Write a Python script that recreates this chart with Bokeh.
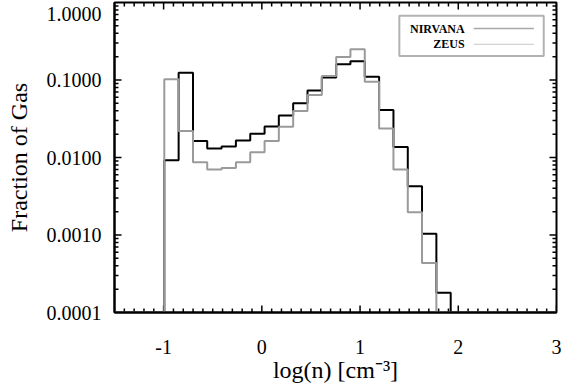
import numpy as np
from bokeh.plotting import figure
from bokeh.models import FixedTicker, PrintfTickFormatter, Label, BoxAnnotation, Range1d
from bokeh.embed import file_html
from bokeh.resources import INLINE

# ---------------- data ----------------
# histogram bin edges in log(n) [cm^-3] (20 filled bins -> 21 edges)
bin_edges = [-0.993, -0.847, -0.701, -0.556, -0.410, -0.264, -0.118, 0.028, 0.173, 0.319,
             0.465, 0.611, 0.757, 0.902, 1.048, 1.194, 1.340, 1.486, 1.631, 1.777, 1.923]
# fraction of gas per bin
nirvana = [0.0092, 0.124, 0.0163, 0.0131, 0.0139, 0.0166, 0.0202, 0.0252, 0.0349, 0.050,
           0.0734, 0.108, 0.160, 0.175, 0.110, 0.041, 0.0137, 0.00426, 0.00104, 0.00018]
zeus = [0.102, 0.0219, 0.0087, 0.0070, 0.0073, 0.0087, 0.0117, 0.0163, 0.0249, 0.0397,
        0.064, 0.113, 0.198, 0.249, 0.095, 0.0237, 0.0070, 0.00196, 0.000434, 0.0]
x_ticks = [-1, 0, 1, 2, 3]
y_ticks = [0.0001, 0.001, 0.01, 0.1]
y_tick_labels = {0.0001: "0.0001", 0.001: "0.0010", 0.01: "0.0100", 0.1: "0.1000"}
x_min, x_max = -1.5, 3.0
y_min, y_max = 1e-4, 1.0

FONT = "Liberation Serif"
TICK_COLOR = "black"
W, H = 561, 391
LEFT, RIGHT, TOP, BOTTOM = 114, 5, 2, 79
FRAME_W = W - LEFT - RIGHT
FRAME_H = H - TOP - BOTTOM
DX = (x_max - x_min) / FRAME_W                          # data units per pixel (x)
DLOG = (np.log10(y_max) - np.log10(y_min)) / FRAME_H    # decades per pixel (y)
MAJ, MIN = 7, 4                                         # tick lengths (px)

def step_series(vals):
    xs = [x_min] + bin_edges + [x_max]
    ys = [y_min] + [max(v, y_min) for v in vals] + [y_min, y_min]
    return xs, ys

p = figure(width=W, height=H, x_range=Range1d(x_min, x_max),
           y_range=Range1d(y_min, y_max), y_axis_type="log",
           output_backend="svg", toolbar_location=None,
           min_border_left=LEFT, min_border_right=RIGHT, min_border_top=TOP,
           min_border_bottom=BOTTOM, outline_line_color="black", outline_line_width=2,
           background_fill_color="white", border_fill_color="white")
p.grid.visible = False

x_minor = [round(float(v), 2) for v in np.arange(-1.4, 2.95, 0.1)
           if min(abs(v - t) for t in x_ticks) > 1e-6]
y_minor = [m * 10.0 ** d for d in range(-4, 0) for m in range(2, 10)]

def style_axis(ax):
    ax.axis_line_color = "black"
    ax.axis_line_width = 2
    ax.major_tick_in = 0
    ax.major_tick_out = 0
    ax.minor_tick_in = 0
    ax.minor_tick_out = 0
    ax.major_label_text_font = FONT
    ax.major_label_text_font_size = "20px"
    ax.major_label_text_color = "black"
    ax.axis_label_text_font = FONT
    ax.axis_label_text_font_size = "24px"
    ax.axis_label_text_font_style = "normal"
    ax.axis_label_text_color = "black"

xa = p.xaxis[0]
xa.ticker = FixedTicker(ticks=x_ticks, minor_ticks=[])
xa.formatter = PrintfTickFormatter(format="%d")
xa.axis_label = "log(n) [cm⁻³]"
style_axis(xa)
xa.major_label_standoff = 27
xa.axis_label_standoff = 0

# the "1.0000" label sits ~11px below the frame top in the original
top_label_pos = float(y_max / 10 ** (11 * DLOG))
ya = p.yaxis[0]
ya.ticker = FixedTicker(ticks=y_ticks + [top_label_pos], minor_ticks=[])
ya.formatter = PrintfTickFormatter(format="%.4f")
ya.major_label_overrides = {**y_tick_labels, top_label_pos: "1.0000"}
ya.axis_label = "Fraction of Gas"
style_axis(ya)
ya.major_label_standoff = 13
ya.axis_label_standoff = 12
ya.axis_label_text_line_height = 0.9

# inward tick marks on all four sides
def x_tick_marks(xv, length):
    n = len(xv)
    up = float(10 ** (length * DLOG))
    xv = [float(v) for v in xv]
    p.segment(x0=xv, y0=[y_min] * n, x1=xv, y1=[y_min * up] * n,
              line_color=TICK_COLOR, line_width=1.5)
    p.segment(x0=xv, y0=[y_max] * n, x1=xv, y1=[y_max / up] * n,
              line_color=TICK_COLOR, line_width=1.5)

def y_tick_marks(yv, length):
    n = len(yv)
    d = float(length * DX)
    yv = [float(v) for v in yv]
    p.segment(x0=[x_min] * n, y0=yv, x1=[x_min + d] * n, y1=yv,
              line_color=TICK_COLOR, line_width=1.5)
    p.segment(x0=[x_max] * n, y0=yv, x1=[x_max - d] * n, y1=yv,
              line_color=TICK_COLOR, line_width=1.5)

x_tick_marks(x_ticks, MAJ)
x_tick_marks(x_minor, MIN)
y_tick_marks(y_ticks, MAJ)
y_tick_marks(y_minor, MIN)

# histograms
xs, ys = step_series(nirvana)
p.step(xs, ys, mode="after", line_color="black", line_width=2)
xs, ys = step_series(zeus)
p.step(xs, ys, mode="after", line_color="#9a9a9a", line_width=2)

# legend (manual, label left of line as in the original)
p.add_layout(BoxAnnotation(left=1.40, right=2.87, top=0.673, bottom=0.204,
                           fill_color="white", fill_alpha=1.0, level="underlay",
                           line_color="black", line_width=2))
p.line([2.157, 2.77], [0.462, 0.462], line_color="#a8a8a8", line_width=1.5)
p.line([2.157, 2.77], [0.289, 0.289], line_color="#c8c8c8", line_width=1)
for txt, yy in [("NIRVANA", 0.457), ("ZEUS", 0.292)]:
    p.add_layout(Label(x=2.065, y=yy, text=txt, text_align="right",
                       text_baseline="middle", text_font=FONT, text_font_size="12px",
                       text_font_style="bold", text_color="black"))

open("out.html", "w").write(file_html(p, INLINE))
